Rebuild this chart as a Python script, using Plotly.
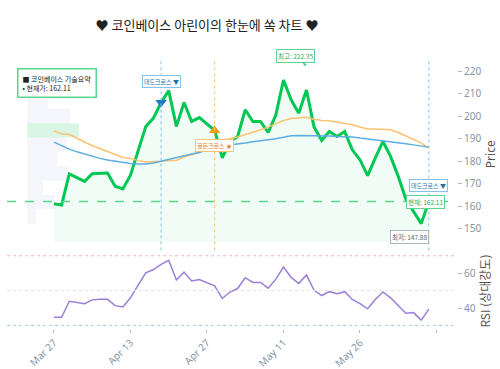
import plotly.graph_objects as go

# ---------------- data ----------------
idx = list(range(50))
tick_positions = [0, 10, 20, 30, 40, 50]
tick_labels = ["Mar 27", "Apr 13", "Apr 27", "May 11", "May 26", ""]

close = [161.1, 160.6, 174.4, 172.7, 171.1, 174.5, 174.8, 174.8, 168.9, 167.7,
         173.8, 184.4, 195.5, 199.2, 206.1, 211.4, 195.5, 206.1, 197.7, 199.4,
         196.5, 193.7, 181.5, 188.8, 190.9, 202.9, 197.7, 197.7, 192.8, 200.6,
         216.1, 207.3, 201.4, 211.7, 195.2, 189.3, 193.2, 191.0, 193.2, 185.1,
         180.7, 173.6, 181.5, 188.8, 182.2, 173.3, 163.1, 157.7, 152.3, 162.11]

ma_short = [193.5, 192.2, 191.9, 190.3, 188.4, 186.9, 185.7, 184.4, 183.0, 181.7,
            181.3, 180.3, 179.7, 179.7, 180.0, 180.4, 180.4, 181.9, 182.9, 183.9,
            185.9, 188.1, 189.6, 190.0, 190.8, 191.8, 192.8, 194.0, 195.2, 196.6,
            198.1, 199.0, 199.3, 199.6, 198.7, 198.1, 198.0, 197.4, 197.0, 196.2,
            195.2, 194.4, 194.3, 194.3, 194.0, 192.8, 191.3, 189.9, 188.2, 185.8]

ma_long = [188.5, 186.9, 185.4, 184.2, 183.2, 182.2, 181.3, 180.6, 180.0, 179.5,
           179.0, 178.8, 178.8, 179.2, 180.0, 181.1, 181.7, 182.5, 183.2, 183.9,
           185.1, 186.3, 186.9, 187.2, 187.6, 188.1, 188.7, 189.3, 189.6, 190.0,
           190.8, 191.3, 191.5, 191.5, 191.3, 191.2, 191.2, 191.0, 191.0, 190.8,
           190.3, 189.9, 189.6, 189.3, 188.8, 188.4, 187.8, 187.3, 186.9, 186.3]

rsi = [34.7, 34.7, 43.9, 43.3, 42.5, 44.7, 45.1, 45.0, 41.4, 40.6,
       45.9, 53.1, 60.2, 62.1, 65.1, 67.4, 56.1, 60.6, 55.5, 56.3,
       54.7, 52.7, 45.5, 49.2, 51.2, 57.4, 54.7, 54.7, 51.4, 56.6,
       63.5, 57.6, 54.1, 59.0, 50.2, 47.2, 49.4, 48.2, 49.4, 44.9,
       42.5, 39.6, 44.9, 49.2, 45.9, 41.5, 37.0, 37.4, 33.1, 39.4]

dead_cross_idx = [14, 49]
golden_cross_idx = [21]
high_max = 222.35
high_max_idx = 33
low_min = 147.88
current_price = 162.11

# volume profile (10 bins between min and max close), relative volume
profile_volume = [9, 28, 16, 40, 30, 40, 52, 43, 21, 30]

# ---------------- figure ----------------
fig = go.Figure()

baseline = low_min * 0.975
fig.add_trace(go.Scatter(x=idx, y=[baseline] * len(idx), mode="lines",
                         line=dict(width=0, color="rgba(0,0,0,0)"),
                         hoverinfo="skip", showlegend=False, xaxis="x", yaxis="y"))
fig.add_trace(go.Scatter(x=idx, y=close, mode="lines", fill="tonexty",
                         fillcolor="rgba(0,200,83,0.06)",
                         line=dict(color="#00c853", width=3),
                         showlegend=False, xaxis="x", yaxis="y"))
fig.add_trace(go.Scatter(x=idx, y=ma_short, mode="lines",
                         line=dict(color="#fdc26e", width=1.5),
                         showlegend=False, xaxis="x", yaxis="y"))
fig.add_trace(go.Scatter(x=idx, y=ma_long, mode="lines",
                         line=dict(color="#5dade2", width=1.5),
                         showlegend=False, xaxis="x", yaxis="y"))
fig.add_trace(go.Scatter(x=[dead_cross_idx[0]], y=[close[dead_cross_idx[0]]], mode="markers",
                         marker=dict(symbol="triangle-down", size=10, color="#1f7bc1"),
                         showlegend=False, xaxis="x", yaxis="y"))
fig.add_trace(go.Scatter(x=golden_cross_idx, y=[close[i] for i in golden_cross_idx], mode="markers",
                         marker=dict(symbol="triangle-up", size=10, color="#f39c12"),
                         showlegend=False, xaxis="x", yaxis="y"))
fig.add_trace(go.Scatter(x=idx, y=rsi, mode="lines",
                         line=dict(color="#9b7fd6", width=1.5),
                         showlegend=False, xaxis="x2", yaxis="y2"))

shapes = []
# volume profile
lo, hi = min(close), max(close)
step = (hi - lo) / len(profile_volume)
vmax = max(profile_volume)
for k, v in enumerate(profile_volume):
    poc = v == vmax
    shapes.append(dict(type="rect", xref="x domain", yref="y",
                       x0=0.045, x1=0.045 + 0.115 * v / vmax,
                       y0=lo + k * step, y1=lo + (k + 1) * step,
                       fillcolor="rgba(46,204,113,0.18)" if poc else "rgba(225,225,245,0.35)",
                       line=dict(width=0), layer="below"))
# cross vertical lines
for i in dead_cross_idx:
    shapes.append(dict(type="line", xref="x", yref="y domain", x0=i, x1=i, y0=0, y1=1,
                       line=dict(color="#85c1e9", width=1, dash="dot")))
for i in golden_cross_idx:
    shapes.append(dict(type="line", xref="x", yref="y domain", x0=i, x1=i, y0=0, y1=1,
                       line=dict(color="#f8c471", width=1, dash="dot")))
# current price line
shapes.append(dict(type="line", xref="x domain", yref="y", x0=0, x1=1,
                   y0=current_price, y1=current_price,
                   line=dict(color="#58d68d", width=1.5, dash="dash")))
# RSI guides
for val, col in [(70, "#f5b7c1"), (50, "#dfe3e8"), (30, "#aed6f1")]:
    shapes.append(dict(type="line", xref="x2 domain", yref="y2", x0=0, x1=1,
                       y0=val, y1=val, line=dict(color=col, width=1, dash="dot")))

ann_font = "Noto Sans CJK KR"
annotations = []
for i in dead_cross_idx:
    annotations.append(dict(x=i, y=close[i] * 1.045, xref="x", yref="y", text="데드크로스 ▼",
                            showarrow=False, font=dict(size=6, color="#2471a3", family=ann_font),
                            bgcolor="white", bordercolor="#85c1e9", borderwidth=1, borderpad=1))
for i in golden_cross_idx:
    annotations.append(dict(x=i, y=close[i] * 0.965, xref="x", yref="y", text="골든크로스 ★",
                            showarrow=False, font=dict(size=6, color="#e67e22", family=ann_font),
                            bgcolor="white", bordercolor="#f8c471", borderwidth=1, borderpad=1))
annotations.append(dict(x=high_max_idx, y=high_max, xref="x", yref="y",
                        text=f"최고: {high_max:.2f}", showarrow=True, ax=-11, ay=-10,
                        arrowhead=2, arrowsize=0.6, arrowwidth=1, arrowcolor="#2ecc71",
                        font=dict(size=6.5, color="#27ae60", family=ann_font),
                        bgcolor="white", bordercolor="#58d68d", borderwidth=1, borderpad=1))
annotations.append(dict(x=idx[-1], y=current_price, xref="x", yref="y",
                        text=f"현재: {current_price:.2f}", showarrow=False, xshift=-3,
                        font=dict(size=6.5, color="#27ae60", family=ann_font),
                        bgcolor="white", bordercolor="#58d68d", borderwidth=1, borderpad=1))
annotations.append(dict(x=idx[-1], y=low_min, xref="x", yref="y", xanchor="right", yshift=-3,
                        text=f"최저: {low_min:.2f}", showarrow=False,
                        font=dict(size=6.5, color="#566573", family=ann_font),
                        bgcolor="white", bordercolor="#aab7b8", borderwidth=1, borderpad=1))
annotations.append(dict(x=0.022, y=0.963, xref="paper", yref="paper", xanchor="left", yanchor="top",
                        align="left", showarrow=False,
                        text=f"■ 코인베이스 기술요약<br>• 현재가: {current_price:.2f}",
                        font=dict(size=7, color="#222", family=ann_font),
                        bgcolor="white", bordercolor="#58d68d", borderwidth=1.5, borderpad=4))

tick_font = dict(size=10, color="#8395a7", family="Noto Sans")
fig.update_layout(
    width=500, height=369,
    margin=dict(l=7, r=43, t=58, b=40, autoexpand=False),
    paper_bgcolor="white", plot_bgcolor="white",
    title=dict(text="♥ 코인베이스 아린이의 한눈에 쏙 차트 ♥", x=0.414, xanchor="center",
               y=0.932, yanchor="middle",
               font=dict(size=13, color="#222", family=ann_font)),
    showlegend=False,
    shapes=shapes, annotations=annotations,
    xaxis=dict(domain=[0, 1], anchor="y", range=[-6.14, 52.68], showticklabels=False,
               showgrid=False, zeroline=False, tickvals=tick_positions, ticks="",
               automargin=False),
    xaxis2=dict(domain=[0, 1], anchor="y2", matches="x", range=[-6.14, 52.68],
                tickvals=tick_positions, ticktext=tick_labels, tickangle=-45,
                showgrid=False, zeroline=False, ticks="outside", ticklen=3,
                tickcolor="#b0bac5", tickfont=tick_font, automargin=False),
    yaxis=dict(domain=[0.29, 1], anchor="x", side="right", range=[140.4, 225.9],
               tickvals=[150, 160, 170, 180, 190, 200, 210, 220],
               showgrid=False, zeroline=False, ticks="outside", ticklen=4,
               tickcolor="#b0bac5", tickfont=tick_font, automargin=False,
               title=dict(text="Price", standoff=6,
                          font=dict(size=12, color="#555", family="Noto Sans"))),
    yaxis2=dict(domain=[0, 0.28], anchor="x2", side="right", range=[28, 71.5],
                tickvals=[40, 60], showgrid=False, zeroline=False, ticks="outside", ticklen=4,
                tickcolor="#b0bac5", tickfont=tick_font, automargin=False,
                title=dict(text="RSI (상대강도)", standoff=6,
                           font=dict(size=12, color="#555", family=ann_font))),
)

fig.write_html("out.html")
